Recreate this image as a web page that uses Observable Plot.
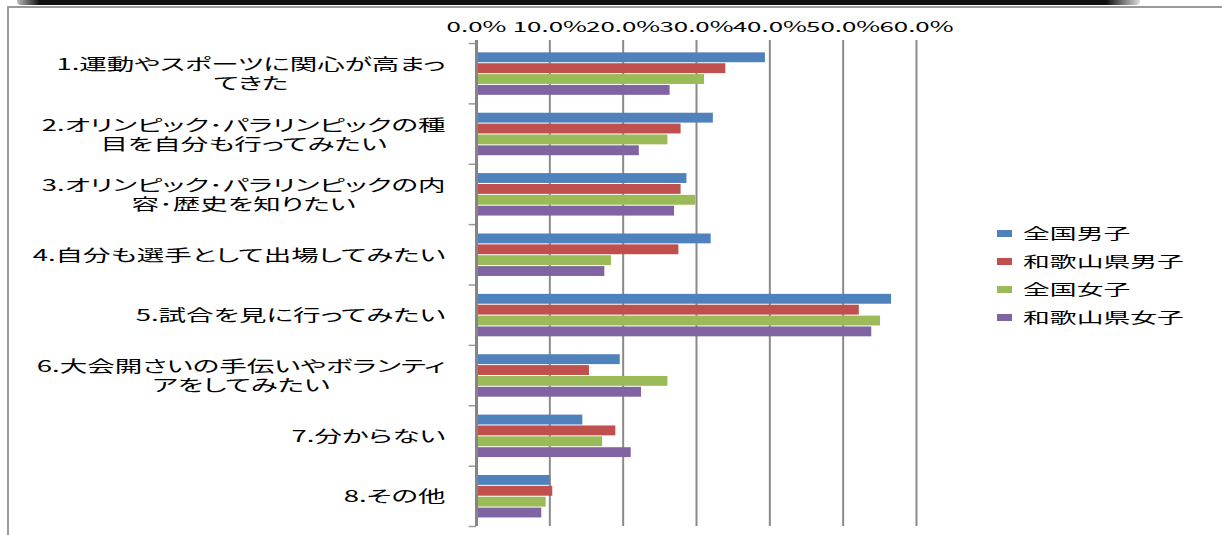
<!DOCTYPE html>
<html>
<head>
<meta charset="utf-8">
<script src="https://cdn.jsdelivr.net/npm/d3@7"></script>
<script src="https://cdn.jsdelivr.net/npm/@observablehq/plot@0.6"></script>
<style>
  body { margin: 0; background: #fff; }
  #wrap { position: relative; width: 1222px; height: 535px; overflow: hidden; font-family: "Noto Sans CJK JP", sans-serif; background: #fff; }
  #chart { position: absolute; left: 0; top: 0; }
  #legend { position: absolute; left: 997px; top: 219px; }
  .item { height: 28px; display: flex; align-items: center; }
  .sw { width: 15px; height: 7px; margin-right: 11px; flex: none; }
  .lt { font-size: 14.5px; line-height: 1; color: #000; display: inline-block; white-space: nowrap; transform: scaleX(1.85); transform-origin: left center; }
  .topbar { position: absolute; left: 17px; top: 0; width: 1123px; height: 5px; background: linear-gradient(to right, #bbb, #111 2%, #111 97%, #ddd); border-radius: 0 0 4px 4px; }
  .topline { position: absolute; left: 7px; top: 6px; right: 0; height: 2px; background: #9a9a9a; }
  .leftline { position: absolute; left: 7px; top: 6px; bottom: 0; width: 2px; background: #9a9a9a; }
  .catlabel { font-feature-settings: "palt"; }
</style>
</head>
<body>
<div id="wrap">
  <div id="chart"></div>
  <div id="legend"></div>
  <div class="topbar"></div>
  <div class="topline"></div>
  <div class="leftline"></div>
</div>
<script>
// ---- data ----
const categories = [
  "1.運動やスポーツに関心が高まっ\nてきた",
  "2.オリンピック･パラリンピックの種\n目を自分も行ってみたい",
  "3.オリンピック･パラリンピックの内\n容･歴史を知りたい",
  "4.自分も選手として出場してみたい",
  "5.試合を見に行ってみたい",
  "6.大会開さいの手伝いやボランティ\nアをしてみたい",
  "7.分からない",
  "8.その他"
];
const seriesNames = ["全国男子", "和歌山県男子", "全国女子", "和歌山県女子"];
const zenkokuDanshi  = [39.4, 32.3, 28.7, 32.0, 56.6, 19.6, 14.5, 10.1];
const wakayamaDanshi = [34.0, 27.9, 27.9, 27.6, 52.2, 15.4, 19.0, 10.4];
const zenkokuJoshi   = [31.1, 26.1, 29.9, 18.4, 55.1, 26.1, 17.2, 9.5];
const wakayamaJoshi  = [26.4, 22.2, 27.0, 17.5, 53.9, 22.5, 21.1, 8.9];
const xTicks = [0, 10, 20, 30, 40, 50, 60];

// ---- styling ----
const colors = ["#4F81BD", "#C0504D", "#9BBB59", "#8064A2"];
const GROUP_TOP = 0.155;   // fraction of a category band above the bar group
const BAR_H = 0.18;        // fraction of a category band per bar

const seriesValues = [zenkokuDanshi, wakayamaDanshi, zenkokuJoshi, wakayamaJoshi];
const rows = [];
seriesNames.forEach((s, si) => categories.forEach((c, ci) =>
  rows.push({series: s, category: c, value: seriesValues[si][ci], ci, si})));

const chart = Plot.plot({
  width: 1222,
  height: 535,
  marginLeft: 476,
  marginRight: 306,
  marginTop: 43,
  marginBottom: 9,
  style: {fontFamily: '"Noto Sans CJK JP", sans-serif', fontSize: "14px", color: "#000", background: "transparent"},
  x: {domain: [0, 60], ticks: xTicks, tickFormat: d => d.toFixed(1) + "%", axis: "top", tickSize: 0, tickPadding: 12, label: null},
  y: {domain: [0, categories.length], reverse: true, axis: null},
  color: {domain: seriesNames, range: colors},
  marks: [
    Plot.ruleX(xTicks.slice(1), {stroke: "#8a8a8a", strokeWidth: 2, insetTop: -3}),
    Plot.rect(rows, {
      x1: 0,
      x2: "value",
      y1: d => d.ci + GROUP_TOP + d.si * BAR_H,
      y2: d => d.ci + GROUP_TOP + (d.si + 1) * BAR_H,
      fill: "series",
      insetBottom: 1
    }),
    Plot.ruleY(d3.range(categories.length + 1), {x1: -1, x2: 0, stroke: "#999", strokeWidth: 1.5}),
    Plot.ruleX([0], {stroke: "#858585", strokeWidth: 3, insetTop: -3}),
    Plot.text(categories, {
      y: (d, i) => i + 0.5,
      text: d => d,
      frameAnchor: "left",
      dx: -31,
      textAnchor: "end",
      fontSize: 16,
      lineHeight: 1.2,
      fill: "#000"
    })
  ]
});

document.getElementById("chart").append(chart);
const svg = chart.tagName.toLowerCase() === "svg" ? chart : chart.querySelector("svg");

function stretch(el, s, anchor) {
  const bb = el.getBBox();
  const ax = anchor === "end" ? bb.x + bb.width : anchor === "middle" ? bb.x + bb.width / 2 : bb.x;
  const t = el.getAttribute("transform") || "";
  el.setAttribute("transform", `${t} translate(${ax},0) scale(${s},1) translate(${-ax},0)`);
}

// category labels: proportional kana, centre each line within the block, right edge fixed, then widen
svg.querySelectorAll('g[aria-label="text"] text').forEach(t => {
  t.setAttribute("class", "catlabel");
  const W = t.getBBox().width;
  const spans = t.querySelectorAll("tspan");
  if (spans.length > 1) {
    t.setAttribute("text-anchor", "middle");
    spans.forEach(sp => sp.setAttribute("x", -W / 2));
  }
  stretch(t, 1.72, "end");
});

// x tick labels
svg.querySelectorAll('g[aria-label^="x-axis"] text').forEach(t => stretch(t, 1.85, "middle"));

// legend
const legend = d3.select("#legend");
seriesNames.forEach((s, i) => {
  const row = legend.append("div").attr("class", "item");
  row.append("span").attr("class", "sw").style("background", colors[i]);
  row.append("span").attr("class", "lt").text(s);
});
</script>
</body>
</html>
